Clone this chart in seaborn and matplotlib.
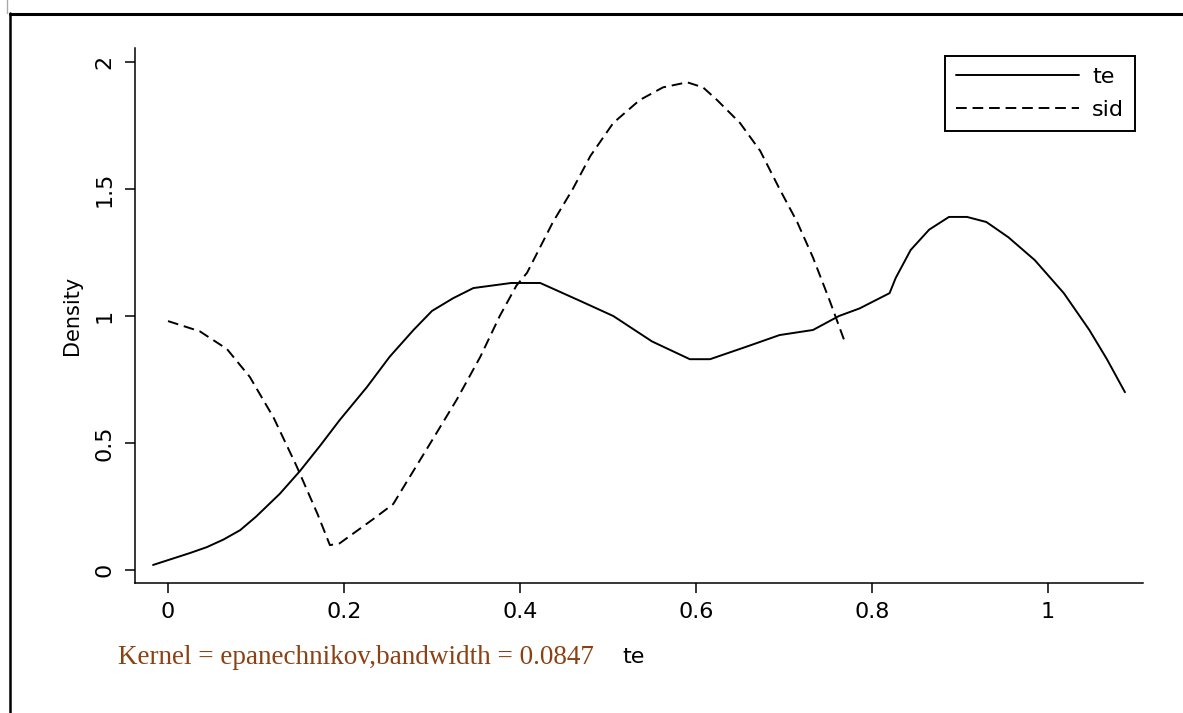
import numpy as np
import pandas as pd
import matplotlib
matplotlib.use("Agg")
import matplotlib.pyplot as plt
from matplotlib.lines import Line2D
import seaborn as sns

# ---- data ----
te_x = [-0.017, 0.025, 0.044, 0.063, 0.082, 0.10, 0.127, 0.15, 0.173, 0.195, 0.226,
        0.252, 0.279, 0.30, 0.324, 0.347, 0.39, 0.423,
        0.468, 0.506, 0.55, 0.593, 0.616, 0.658, 0.695, 0.733, 0.7625, 0.786, 0.82,
        0.827, 0.844, 0.865, 0.8875, 0.908, 0.93, 0.955, 0.985, 1.018, 1.047, 1.067, 1.0875]
te_y = [0.02, 0.067, 0.09, 0.12, 0.157, 0.21, 0.30, 0.39, 0.49, 0.59, 0.72,
        0.84, 0.945, 1.02, 1.07, 1.11, 1.13, 1.13,
        1.06, 1.0, 0.90, 0.83, 0.83, 0.88, 0.925, 0.945, 1.0, 1.03, 1.09,
        1.15, 1.26, 1.34, 1.39, 1.39, 1.37, 1.31, 1.22, 1.09, 0.945, 0.83, 0.70]

sid_x = [0.0, 0.036, 0.067, 0.093, 0.12, 0.146, 0.17, 0.184, 0.195, 0.233, 0.256,
         0.27, 0.30, 0.328, 0.355, 0.377, 0.396, 0.408, 0.4375, 0.46, 0.48, 0.506,
         0.536, 0.5625, 0.59, 0.608, 0.624, 0.65, 0.673, 0.695, 0.715, 0.733, 0.752, 0.77]
sid_y = [0.98, 0.94, 0.87, 0.76, 0.60, 0.41, 0.22, 0.098, 0.105, 0.20, 0.26,
         0.34, 0.51, 0.67, 0.84, 1.0, 1.12, 1.17, 1.37, 1.50, 1.63, 1.76,
         1.85, 1.90, 1.92, 1.90, 1.85, 1.76, 1.65, 1.50, 1.37, 1.23, 1.06, 0.89]

series_labels = ["te", "sid"]
x_ticks = [0, 0.2, 0.4, 0.6, 0.8, 1]
x_ticklabels = ["0", "0.2", "0.4", "0.6", "0.8", "1"]
y_ticks = [0, 0.5, 1, 1.5, 2]
y_ticklabels = ["0", "0.5", "1", "1.5", "2"]
x_title = "te"
y_title = "Density"
note_text = "Kernel = epanechnikov,bandwidth = 0.0847"

# ---- figure ----
sns.set_theme(style="white")
plt.rcParams["font.family"] = ["DejaVu Sans"]
plt.rcParams["text.color"] = "black"

W, H = 1183, 713
fig = plt.figure(figsize=(W / 100, H / 100), dpi=100)
fig.patch.set_facecolor("white")

ax_l, ax_r, ax_t, ax_b = 135, 1143, 48, 583
ax = fig.add_axes([ax_l / W, 1 - ax_b / H, (ax_r - ax_l) / W, (ax_b - ax_t) / H])
ax.set_facecolor("white")

df = pd.concat([
    pd.DataFrame({"x": te_x, "y": te_y, "series": series_labels[0]}),
    pd.DataFrame({"x": sid_x, "y": sid_y, "series": series_labels[1]}),
], ignore_index=True)

dash_pat = (5.5, 3)
sns.lineplot(data=df, x="x", y="y", hue="series", style="series",
             palette={"te": "black", "sid": "black"},
             dashes={"te": "", "sid": dash_pat},
             estimator=None, sort=False, lw=1.4, ax=ax, legend=False)
for ln in ax.get_lines():
    ln.set_solid_joinstyle("round")
    ln.set_dash_joinstyle("round")

ax.set_xlim(-0.0375, 1.108)
ax.set_ylim(-0.051, 2.055)

for s in ["top", "right"]:
    ax.spines[s].set_visible(False)
for s in ["left", "bottom"]:
    ax.spines[s].set_color("black")
    ax.spines[s].set_linewidth(1.1)

ax.set_xticks(x_ticks)
ax.set_xticklabels(x_ticklabels)
ax.set_yticks(y_ticks)
ax.set_yticklabels(y_ticklabels, rotation=90, va="center")
ax.tick_params(axis="both", which="major", bottom=True, left=True,
               direction="out", length=7.5, width=1.1, color="black",
               labelsize=16, labelcolor="black")
ax.tick_params(axis="x", pad=6)
ax.tick_params(axis="y", pad=7)

ax.set_ylabel(y_title, fontsize=15, color="black")
ax.yaxis.set_label_coords((82 - ax_l) / (ax_r - ax_l), 0.5)
ax.set_xlabel(x_title, fontsize=16, color="black")
ax.xaxis.label.set_va("center")
ax.xaxis.set_label_coords((634 - ax_l) / (ax_r - ax_l), (ax_b - 657) / (ax_b - ax_t))

handles = [Line2D([], [], color="black", lw=1.4),
           Line2D([], [], color="black", lw=1.4, dashes=dash_pat)]
leg = ax.legend(handles, series_labels, loc="upper right",
                bbox_to_anchor=((1135 - ax_l) / (ax_r - ax_l), (ax_b - 56) / (ax_b - ax_t)),
                borderaxespad=0, frameon=True, fancybox=False, framealpha=1,
                fontsize=16, handlelength=5.5, handletextpad=0.6, labelspacing=0.58,
                borderpad=0.5, labelcolor="black")
leg.get_frame().set_edgecolor("black")
leg.get_frame().set_linewidth(1.4)

fig.text(118 / W, 1 - 657 / H, note_text, ha="left", va="center",
         fontsize=19.5, family=["Liberation Serif"], color="#8a4214")

# outer frame (left and top edges of the captured window)
fig.add_artist(Line2D([10 / W, 10 / W], [0, 1 - 13 / H], transform=fig.transFigure,
                      color="black", lw=1.8))
fig.add_artist(Line2D([10 / W, 1], [1 - 14 / H, 1 - 14 / H], transform=fig.transFigure,
                      color="black", lw=2.2))
fig.add_artist(Line2D([7 / W, 7 / W], [1 - 13 / H, 1], transform=fig.transFigure,
                      color="#aaaaaa", lw=1.0))

fig.savefig("out.png", dpi=100, facecolor="white")
